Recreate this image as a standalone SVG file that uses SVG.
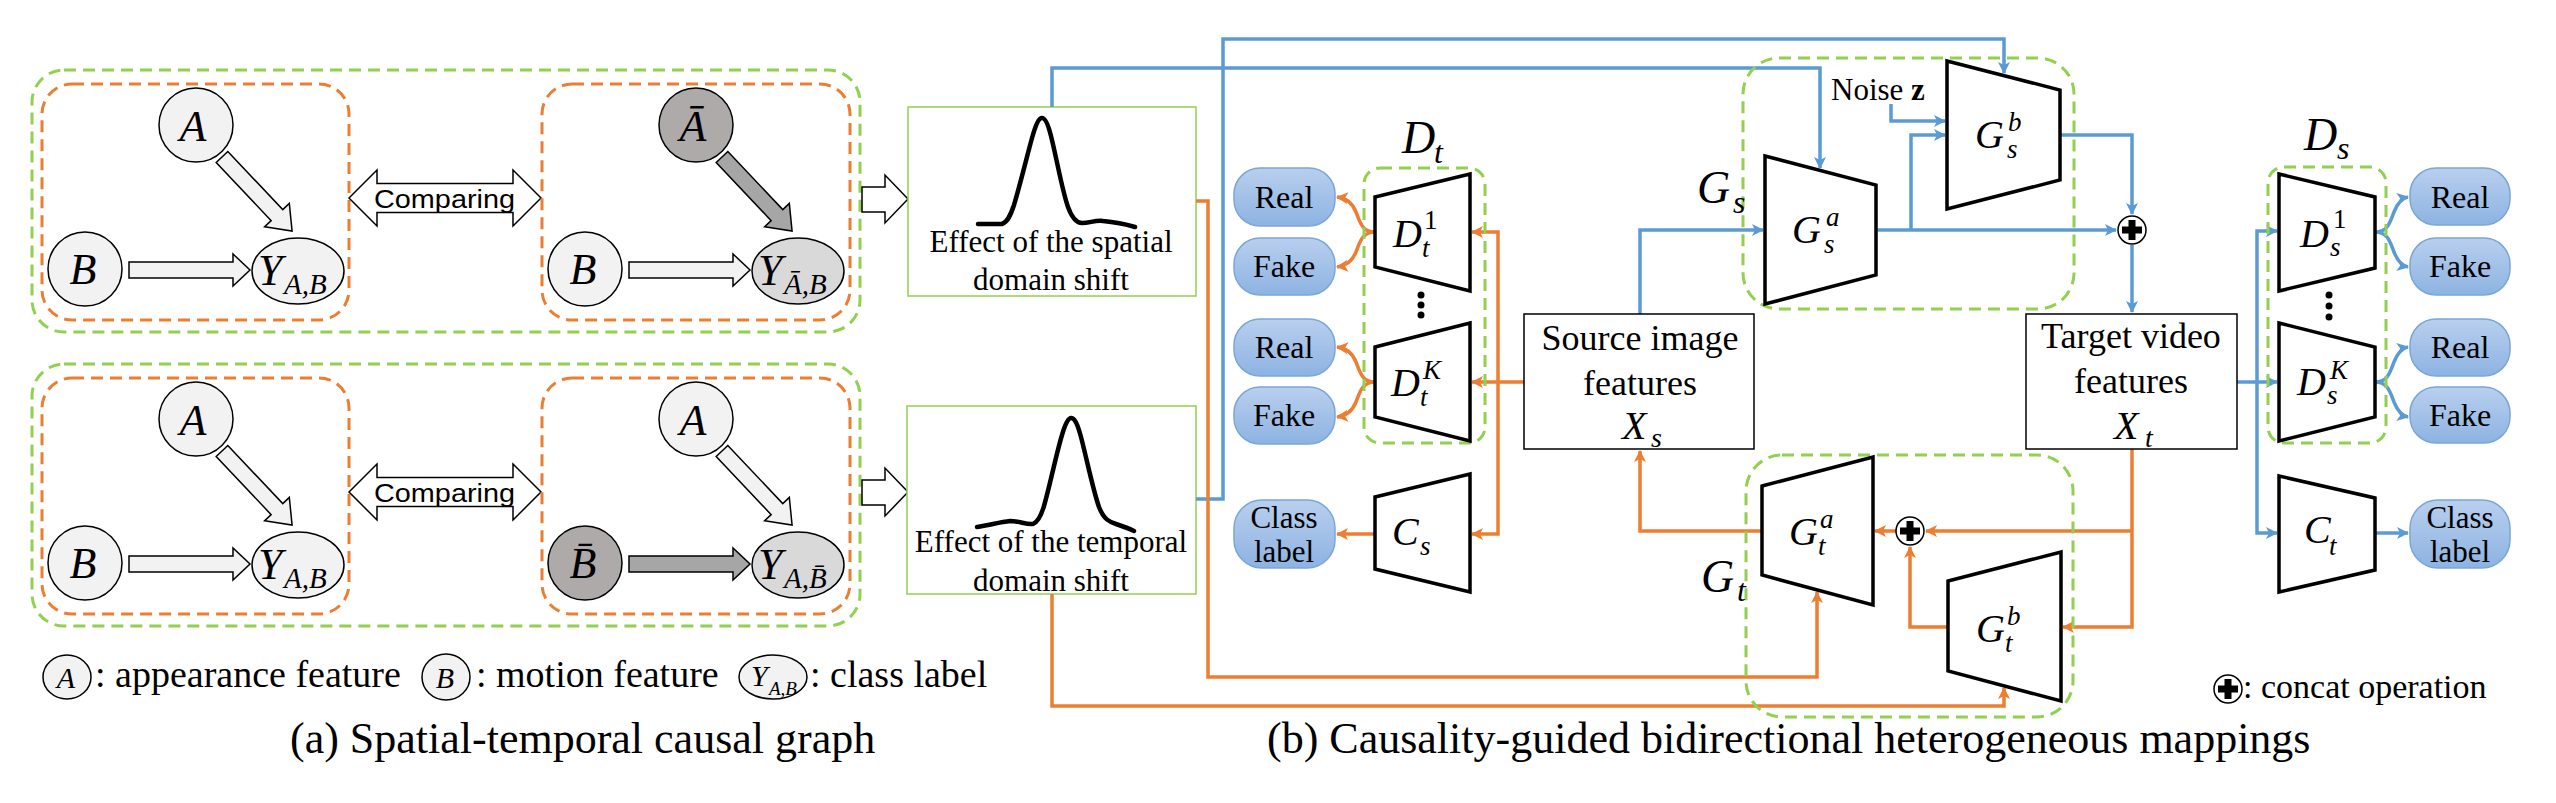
<svg xmlns="http://www.w3.org/2000/svg" width="2556" height="803" viewBox="0 0 2556 803">
<style>
.gd{fill:none;stroke:#92d050;stroke-width:3;stroke-dasharray:12 7}
.od{fill:none;stroke:#ed7d31;stroke-width:3;stroke-dasharray:12 7}
.node{fill:#f2f2f2;stroke:#000;stroke-width:1.5}
.dark{fill:#aeaaaa;stroke:#000;stroke-width:1.5}
.mid{fill:#d9d9d9;stroke:#000;stroke-width:1.5}
.blk{fill:#f2f2f2;stroke:#000;stroke-width:1.5}
.blkd{fill:#a6a6a6;stroke:#000;stroke-width:1.5}
.hollow{fill:#fff;stroke:#000;stroke-width:1.5}
.eff{fill:#fff;stroke:#92d050;stroke-width:1.5}
.curve{fill:none;stroke:#000;stroke-width:4.5;stroke-linecap:round;stroke-linejoin:round}
.box{fill:#fff;stroke:#000;stroke-width:1.5}
.trap{fill:#fff;stroke:#000;stroke-width:3.5}
.bl{fill:none;stroke:#5b9bd5;stroke-width:3.5}
.or{fill:none;stroke:#ed7d31;stroke-width:3.5}
.pill{fill:url(#pg);stroke:#7aa7d9;stroke-width:1.5}
.t{font-family:"Liberation Serif","Times New Roman",serif;fill:#000}
.mi{font-family:"Liberation Serif","DejaVu Serif",serif;font-style:italic;fill:#000}
.n{font-style:normal}
.cmp{font-family:"Liberation Sans",Arial,sans-serif;font-size:26px;fill:#000}
</style>
<defs>
<linearGradient id="pg" x1="0" y1="0" x2="0" y2="1">
<stop offset="0" stop-color="#b9cfee"/>
<stop offset="1" stop-color="#8db3e2"/>
</linearGradient>
<marker id="ab" viewBox="0 0 12 12" refX="11" refY="6" markerWidth="13" markerHeight="12" markerUnits="userSpaceOnUse" orient="auto">
<path d="M0,0 L12,6 L0,12 L3,6 z" fill="#5b9bd5"/>
</marker>
<marker id="ao" viewBox="0 0 12 12" refX="11" refY="6" markerWidth="13" markerHeight="12" markerUnits="userSpaceOnUse" orient="auto">
<path d="M0,0 L12,6 L0,12 L3,6 z" fill="#ed7d31"/>
</marker>
<g id="concat">
<circle cx="0" cy="0" r="14" fill="#fff" stroke="#000" stroke-width="1.5"/>
<rect x="-10" y="-3.5" width="20" height="7" fill="#000"/>
<rect x="-3.5" y="-10" width="7" height="20" fill="#000"/>
</g>
</defs>

<!-- (a) spatial causal graph -->
<g id="graph-spatial">
<rect class="gd" x="32" y="70" width="828" height="262" rx="32"/>
<g id="factual-spatial">
<rect class="od" x="42" y="84" width="307" height="236" rx="30"/>
<polygon class="blk" transform="translate(222,157) rotate(46.6)" points="0,-8 80,-8 80,-17 102,0 80,17 80,8 0,8"/>
<polygon class="blk" points="129,262 233,262 233,254 250,270 233,286 233,278 129,278"/>
<ellipse class="node" cx="196" cy="125" rx="37" ry="37"/>
<ellipse class="node" cx="85" cy="269" rx="37" ry="37"/>
<ellipse class="node" cx="298" cy="271" rx="46" ry="33"/>
<text class="mi" x="193" y="141" font-size="44" text-anchor="middle">A</text>
<text class="mi" x="83" y="284" font-size="44" text-anchor="middle">B</text>
<text class="mi" x="258" y="285" font-size="44">Y<tspan x="284" y="294" font-size="29">A,B</tspan></text>
</g>
<polygon id="comparing-spatial" class="hollow" points="349,198 377,170 377,183.5 513,183.5 513,170 541,198 513,226 513,212.5 377,212.5 377,226"/>
<text class="cmp" x="374" y="208" textLength="141" lengthAdjust="spacingAndGlyphs">Comparing</text>
<g id="counterfactual-spatial">
<rect class="od" x="542" y="84" width="308" height="236" rx="30"/>
<polygon class="blkd" transform="translate(722,157) rotate(46.6)" points="0,-8 80,-8 80,-17 102,0 80,17 80,8 0,8"/>
<polygon class="blk" points="629,262 733,262 733,254 750,270 733,286 733,278 629,278"/>
<ellipse class="dark" cx="696" cy="125" rx="37" ry="37"/>
<ellipse class="node" cx="585" cy="269" rx="37" ry="37"/>
<ellipse class="mid" cx="798" cy="271" rx="46" ry="33"/>
<text class="mi" x="693" y="141" font-size="44" text-anchor="middle">Ā</text>
<text class="mi" x="583" y="284" font-size="44" text-anchor="middle">B</text>
<text class="mi" x="758" y="285" font-size="44">Y<tspan x="784" y="294" font-size="29">Ā,B</tspan></text>
</g>
<polygon id="to-effect-spatial" class="hollow" points="862,187 885,187 885,175 908,199 885,223 885,212 862,212"/>
</g>

<g id="graph-temporal">
<rect class="gd" x="32" y="364" width="828" height="262" rx="32"/>
<g id="factual-temporal">
<rect class="od" x="42" y="378" width="307" height="236" rx="30"/>
<polygon class="blk" transform="translate(222,451) rotate(46.6)" points="0,-8 80,-8 80,-17 102,0 80,17 80,8 0,8"/>
<polygon class="blk" points="129,556 233,556 233,548 250,564 233,580 233,572 129,572"/>
<ellipse class="node" cx="196" cy="419" rx="37" ry="37"/>
<ellipse class="node" cx="85" cy="563" rx="37" ry="37"/>
<ellipse class="node" cx="298" cy="565" rx="46" ry="33"/>
<text class="mi" x="193" y="435" font-size="44" text-anchor="middle">A</text>
<text class="mi" x="83" y="578" font-size="44" text-anchor="middle">B</text>
<text class="mi" x="258" y="579" font-size="44">Y<tspan x="284" y="588" font-size="29">A,B</tspan></text>
</g>
<polygon id="comparing-temporal" class="hollow" points="349,492 377,464 377,477.5 513,477.5 513,464 541,492 513,520 513,506.5 377,506.5 377,520"/>
<text class="cmp" x="374" y="502" textLength="141" lengthAdjust="spacingAndGlyphs">Comparing</text>
<g id="counterfactual-temporal">
<rect class="od" x="542" y="378" width="308" height="236" rx="30"/>
<polygon class="blk" transform="translate(722,451) rotate(46.6)" points="0,-8 80,-8 80,-17 102,0 80,17 80,8 0,8"/>
<polygon class="blkd" points="629,556 733,556 733,548 750,564 733,580 733,572 629,572"/>
<ellipse class="node" cx="696" cy="419" rx="37" ry="37"/>
<ellipse class="dark" cx="585" cy="563" rx="37" ry="37"/>
<ellipse class="mid" cx="798" cy="565" rx="46" ry="33"/>
<text class="mi" x="693" y="435" font-size="44" text-anchor="middle">A</text>
<text class="mi" x="583" y="578" font-size="44" text-anchor="middle">B̄</text>
<text class="mi" x="758" y="579" font-size="44">Y<tspan x="784" y="588" font-size="29">A,B̄</tspan></text>
</g>
<polygon id="to-effect-temporal" class="hollow" points="862,480 885,480 885,468 908,492 885,516 885,505 862,505"/>
</g>

<g id="legend-a">
<ellipse class="node" cx="67" cy="677" rx="24" ry="22"/>
<text class="mi" x="66" y="688" font-size="30" text-anchor="middle">A</text>
<text class="t" x="95" y="687" font-size="38">: appearance feature</text>
<ellipse class="node" cx="446" cy="677" rx="24" ry="23"/>
<text class="mi" x="445" y="688" font-size="30" text-anchor="middle">B</text>
<text class="t" x="476" y="687" font-size="38">: motion feature</text>
<ellipse class="node" cx="773" cy="677" rx="34" ry="22"/>
<text class="mi" x="751" y="686" font-size="30">Y<tspan x="769" y="695" font-size="19">A,B</tspan></text>
<text class="t" x="810" y="687" font-size="38">: class label</text>
</g>
<text class="t" x="290" y="753" font-size="44">(a) Spatial-temporal causal graph</text>

<!-- (b) -->
<g id="effect-spatial">
<rect class="eff" x="908" y="107" width="288" height="189"/>
<path class="curve" d="M978,224 L1002,224 C1008,222 1011,214 1014,205 C1020,185 1026,160 1032,138 C1036,124 1039,118 1042,118 C1045,118 1048,124 1051,136 C1057,160 1062,190 1068,207 C1072,218 1076,223 1082,223 C1090,223 1095,220 1103,221 C1115,222 1125,224 1135,227"/>
<text class="t" x="1051" y="252" font-size="31" text-anchor="middle">Effect of the spatial</text>
<text class="t" x="1051" y="290" font-size="31" text-anchor="middle">domain shift</text>
</g>
<g id="effect-temporal">
<rect class="eff" x="907" y="406" width="289" height="188"/>
<path class="curve" d="M977,527 C990,525 1000,522 1010,521 C1020,521 1026,525 1033,524 C1038,522 1041,516 1044,506 C1050,485 1056,455 1062,435 C1066,421 1069,418 1071,418 C1074,418 1077,422 1081,437 C1087,460 1093,490 1099,507 C1104,520 1110,522 1116,524 C1122,526 1128,528 1134,531"/>
<text class="t" x="1051" y="552" font-size="31" text-anchor="middle">Effect of the temporal</text>
<text class="t" x="1051" y="591" font-size="31" text-anchor="middle">domain shift</text>
</g>

<g id="connectors">
<!-- blue -->
<polyline class="bl" points="1052,107 1052,68 1820,68 1820,168" marker-end="url(#ab)"/>
<polyline class="bl" points="1196,499 1223,499 1223,39 2004,39 2004,73" marker-end="url(#ab)"/>
<polyline class="bl" points="1640,314 1640,230 1763,230" marker-end="url(#ab)"/>
<polyline class="bl" points="1876,230 2116,230" marker-end="url(#ab)"/>
<polyline class="bl" points="1911,230 1911,135 1945,135" marker-end="url(#ab)"/>
<polyline class="bl" points="1891,104 1891,121 1945,121" marker-end="url(#ab)"/>
<polyline class="bl" points="2060,135 2132,135 2132,214" marker-end="url(#ab)"/>
<polyline class="bl" points="2132,245 2132,312" marker-end="url(#ab)"/>
<polyline class="bl" points="2237,382 2277,382" marker-end="url(#ab)"/>
<polyline class="bl" points="2257,382 2257,231 2277,231" marker-end="url(#ab)"/>
<polyline class="bl" points="2257,382 2257,533 2277,533" marker-end="url(#ab)"/>
<path class="bl" d="M2375,232 C2388,232 2390,222 2394,212 C2398,202 2402,198 2408,197" marker-end="url(#ab)"/>
<path class="bl" d="M2375,232 C2388,232 2390,242 2394,252 C2398,262 2402,266 2408,267" marker-end="url(#ab)"/>
<path class="bl" d="M2375,382 C2388,382 2390,372 2394,362 C2398,352 2402,348 2408,347" marker-end="url(#ab)"/>
<path class="bl" d="M2375,382 C2388,382 2390,392 2394,402 C2398,412 2402,416 2408,417" marker-end="url(#ab)"/>
<polyline class="bl" points="2375,533 2408,533" marker-end="url(#ab)"/>
<!-- orange -->
<polyline class="or" points="1196,201 1208,201 1208,677 1817,677 1817,592" marker-end="url(#ao)"/>
<polyline class="or" points="1052,594 1052,706 2004,706 2004,688" marker-end="url(#ao)"/>
<polyline class="or" points="1524,382 1472,382" marker-end="url(#ao)"/>
<polyline class="or" points="1498,382 1498,232 1472,232" marker-end="url(#ao)"/>
<polyline class="or" points="1498,382 1498,534 1472,534" marker-end="url(#ao)"/>
<path class="or" d="M1375,232 C1362,232 1360,222 1356,212 C1352,202 1346,198 1337,197" marker-end="url(#ao)"/>
<path class="or" d="M1375,232 C1362,232 1360,242 1356,252 C1352,262 1346,266 1337,267" marker-end="url(#ao)"/>
<path class="or" d="M1375,382 C1362,382 1360,372 1356,362 C1352,352 1346,348 1337,347" marker-end="url(#ao)"/>
<path class="or" d="M1375,382 C1362,382 1360,392 1356,402 C1352,412 1346,416 1337,417" marker-end="url(#ao)"/>
<polyline class="or" points="1375,534 1337,534" marker-end="url(#ao)"/>
<polyline class="or" points="2132,449 2132,627 2063,627" marker-end="url(#ao)"/>
<polyline class="or" points="2132,531 1926,531" marker-end="url(#ao)"/>
<polyline class="or" points="1948,627 1910,627 1910,547" marker-end="url(#ao)"/>
<polyline class="or" points="1896,531 1875,531" marker-end="url(#ao)"/>
<polyline class="or" points="1762,531 1640,531 1640,451" marker-end="url(#ao)"/>
</g>

<g id="D_t">
<rect class="gd" x="1364" y="168" width="121" height="275" rx="16"/>
<text class="mi" x="1402" y="153" font-size="46">D<tspan x="1434" y="163" font-size="32">t</tspan></text>
<g id="D_t1">
<polygon class="trap" points="1375,197 1470,174 1470,291 1375,267"/>
<text class="mi" x="1393" y="247" font-size="40">D<tspan class="n" x="1424" y="229" font-size="27">1</tspan><tspan x="1422" y="257" font-size="27">t</tspan></text>
</g>
<circle cx="1421" cy="295" r="3.5" fill="#000"/>
<circle cx="1421" cy="305" r="3.5" fill="#000"/>
<circle cx="1421" cy="315" r="3.5" fill="#000"/>
<g id="D_tK">
<polygon class="trap" points="1375,347 1470,323 1470,441 1375,417"/>
<text class="mi" x="1391" y="396" font-size="40">D<tspan x="1423" y="379" font-size="27">K</tspan><tspan x="1420" y="406" font-size="27">t</tspan></text>
</g>
</g>
<g id="C_s">
<polygon class="trap" points="1375,497 1470,474 1470,592 1375,569"/>
<text class="mi" x="1392" y="545" font-size="40">C<tspan x="1420" y="555" font-size="27">s</tspan></text>
</g>
<g id="outputs-t">
<rect class="pill" x="1234" y="168" width="101" height="58" rx="26"/>
<text class="t" x="1284" y="208" font-size="32" text-anchor="middle">Real</text>
<rect class="pill" x="1234" y="238" width="101" height="57" rx="26"/>
<text class="t" x="1284" y="277" font-size="32" text-anchor="middle">Fake</text>
<rect class="pill" x="1234" y="319" width="101" height="57" rx="26"/>
<text class="t" x="1284" y="358" font-size="32" text-anchor="middle">Real</text>
<rect class="pill" x="1234" y="387" width="101" height="57" rx="26"/>
<text class="t" x="1284" y="426" font-size="32" text-anchor="middle">Fake</text>
<rect class="pill" x="1234" y="500" width="101" height="68" rx="28"/>
<text class="t" x="1284" y="528" font-size="31" text-anchor="middle">Class</text>
<text class="t" x="1284" y="562" font-size="31" text-anchor="middle">label</text>
</g>

<g id="source">
<rect class="box" x="1524" y="314" width="230" height="135"/>
<text class="t" x="1640" y="350" font-size="36" text-anchor="middle">Source image</text>
<text class="t" x="1640" y="395" font-size="36" text-anchor="middle">features</text>
<text class="mi" x="1622" y="439" font-size="40">X<tspan x="1651" y="447" font-size="28">s</tspan></text>
</g>
<g id="target">
<rect class="box" x="2026" y="314" width="211" height="135"/>
<text class="t" x="2131" y="348" font-size="36" text-anchor="middle">Target video</text>
<text class="t" x="2131" y="393" font-size="36" text-anchor="middle">features</text>
<text class="mi" x="2114" y="439" font-size="40">X<tspan x="2145" y="447" font-size="28">t</tspan></text>
</g>

<g id="G_s">
<rect class="gd" x="1743" y="58" width="331" height="251" rx="36"/>
<text class="mi" x="1697" y="203" font-size="46">G<tspan x="1733" y="213" font-size="32">s</tspan></text>
<text class="t" x="1831" y="100" font-size="31">Noise <tspan font-weight="bold">z</tspan></text>
<g id="G_sa">
<polygon class="trap" points="1765,156 1876,185 1876,275 1765,304"/>
<text class="mi" x="1792" y="243" font-size="40">G<tspan x="1826" y="226" font-size="27">a</tspan><tspan x="1824" y="253" font-size="27">s</tspan></text>
</g>
<g id="G_sb">
<polygon class="trap" points="1947,61 2060,90 2060,180 1947,209"/>
<text class="mi" x="1975" y="148" font-size="40">G<tspan x="2008" y="131" font-size="27">b</tspan><tspan x="2007" y="158" font-size="27">s</tspan></text>
</g>
</g>
<use id="concat-s" href="#concat" x="2132" y="230"/>

<g id="G_t">
<rect class="gd" x="1746" y="455" width="327" height="262" rx="36"/>
<text class="mi" x="1701" y="592" font-size="46">G<tspan x="1737" y="601" font-size="32">t</tspan></text>
<g id="G_ta">
<polygon class="trap" points="1762,486 1873,457 1873,605 1762,575"/>
<text class="mi" x="1789" y="545" font-size="40">G<tspan x="1820" y="528" font-size="27">a</tspan><tspan x="1818" y="555" font-size="27">t</tspan></text>
</g>
<g id="G_tb">
<polygon class="trap" points="1948,581 2061,552 2061,701 1948,671"/>
<text class="mi" x="1976" y="642" font-size="40">G<tspan x="2007" y="625" font-size="27">b</tspan><tspan x="2005" y="652" font-size="27">t</tspan></text>
</g>
</g>
<use id="concat-t" href="#concat" x="1910" y="531"/>

<g id="D_s">
<rect class="gd" x="2268" y="167" width="118" height="276" rx="16"/>
<text class="mi" x="2304" y="150" font-size="46">D<tspan x="2337" y="159" font-size="32">s</tspan></text>
<g id="D_s1">
<polygon class="trap" points="2279,174 2375,197 2375,268 2279,291"/>
<text class="mi" x="2300" y="247" font-size="40">D<tspan class="n" x="2333" y="228" font-size="27">1</tspan><tspan x="2330" y="256" font-size="27">s</tspan></text>
</g>
<circle cx="2329" cy="295" r="3.5" fill="#000"/>
<circle cx="2329" cy="306" r="3.5" fill="#000"/>
<circle cx="2329" cy="317" r="3.5" fill="#000"/>
<g id="D_sK">
<polygon class="trap" points="2279,323 2375,347 2375,417 2279,441"/>
<text class="mi" x="2297" y="395" font-size="40">D<tspan x="2330" y="379" font-size="27">K</tspan><tspan x="2327" y="404" font-size="27">s</tspan></text>
</g>
</g>
<g id="C_t">
<polygon class="trap" points="2279,476 2375,498 2375,570 2279,592"/>
<text class="mi" x="2304" y="543" font-size="40">C<tspan x="2329" y="555" font-size="27">t</tspan></text>
</g>
<g id="outputs-s">
<rect class="pill" x="2410" y="168" width="100" height="57" rx="26"/>
<text class="t" x="2460" y="208" font-size="32" text-anchor="middle">Real</text>
<rect class="pill" x="2410" y="238" width="100" height="57" rx="26"/>
<text class="t" x="2460" y="277" font-size="32" text-anchor="middle">Fake</text>
<rect class="pill" x="2410" y="319" width="100" height="57" rx="26"/>
<text class="t" x="2460" y="358" font-size="32" text-anchor="middle">Real</text>
<rect class="pill" x="2410" y="387" width="100" height="56" rx="26"/>
<text class="t" x="2460" y="426" font-size="32" text-anchor="middle">Fake</text>
<rect class="pill" x="2410" y="500" width="100" height="68" rx="28"/>
<text class="t" x="2460" y="528" font-size="31" text-anchor="middle">Class</text>
<text class="t" x="2460" y="562" font-size="31" text-anchor="middle">label</text>
</g>

<g id="legend-b">
<use href="#concat" x="2228" y="689"/>
<text class="t" x="2243" y="698" font-size="34">: concat operation</text>
</g>
<text class="t" x="1267" y="753" font-size="44">(b) Causality-guided bidirectional heterogeneous mappings</text>
</svg>
